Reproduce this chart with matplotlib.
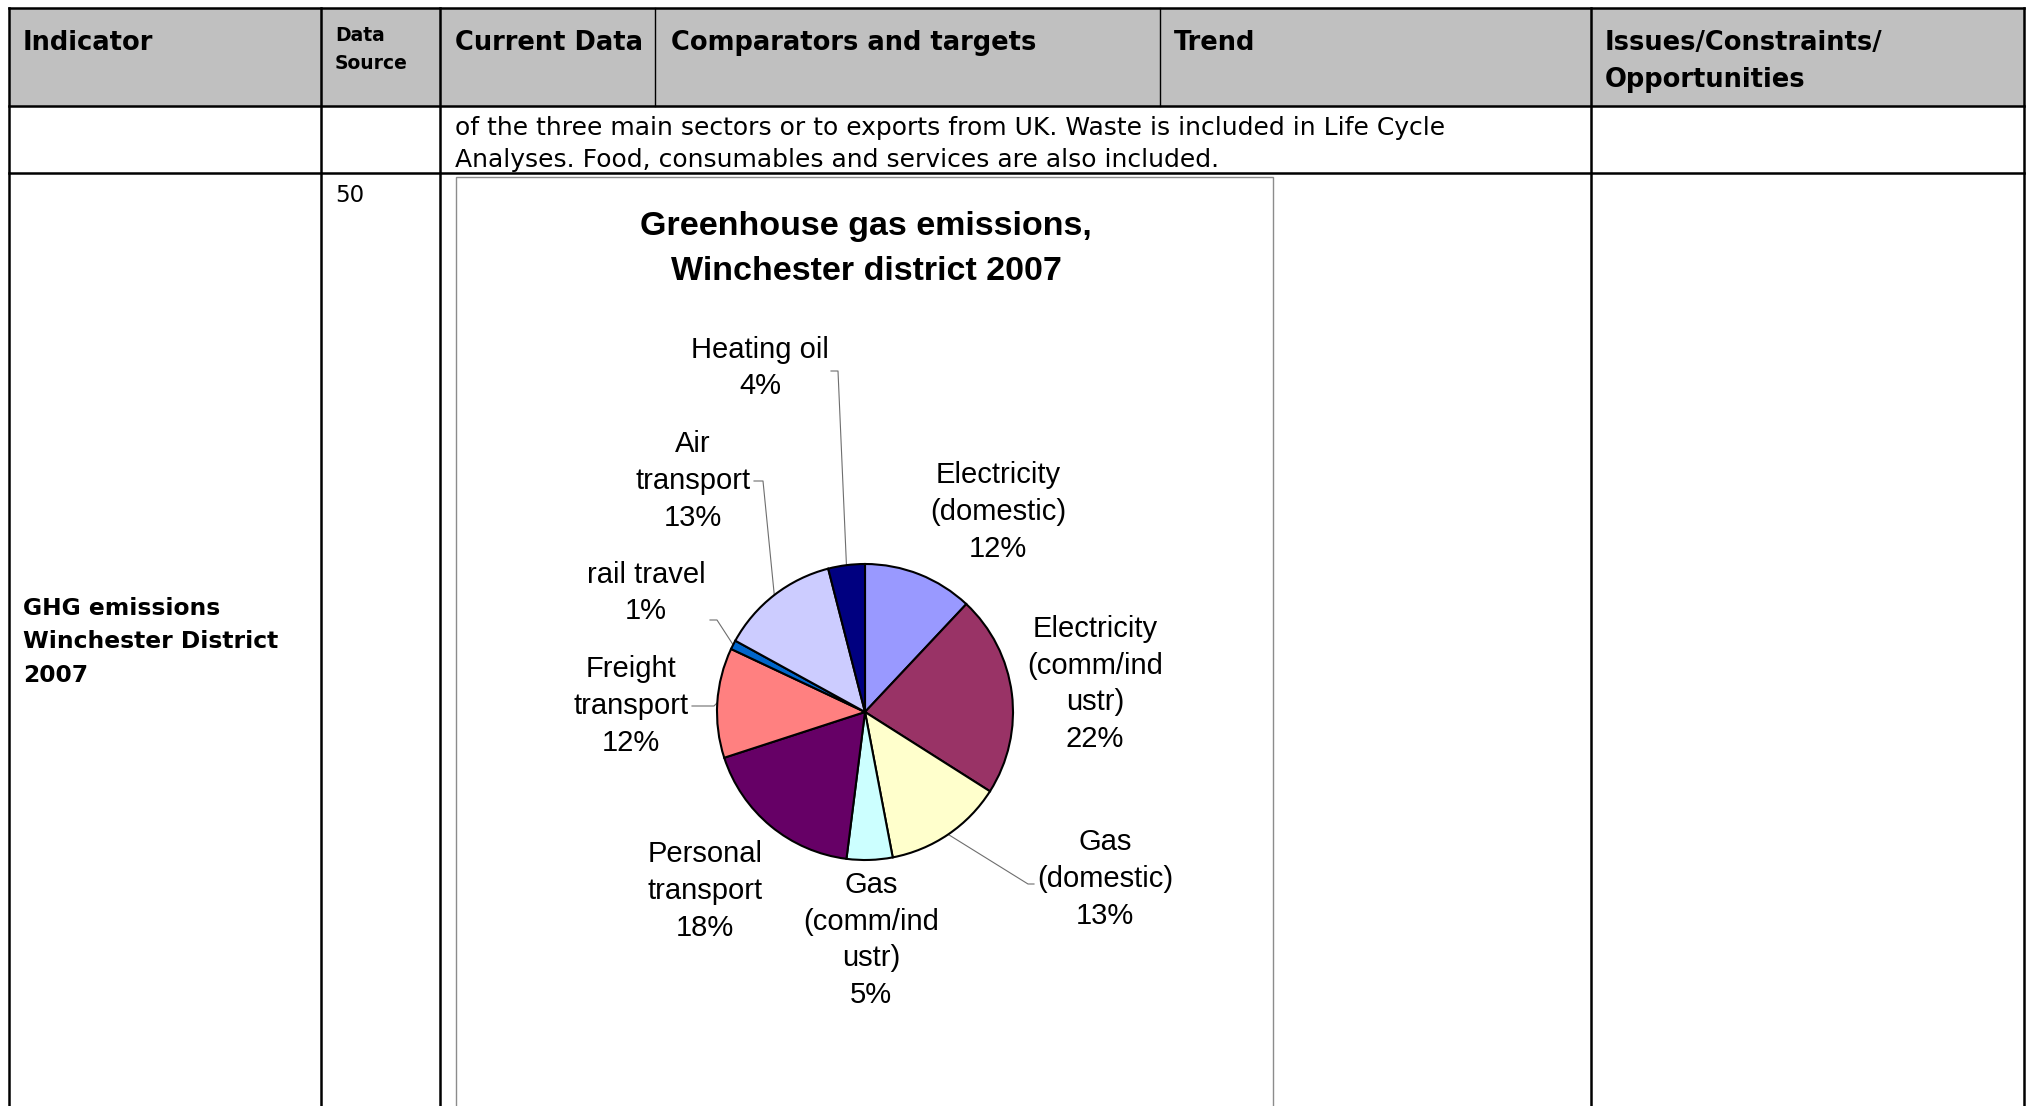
import numpy as np
import matplotlib
matplotlib.use("Agg")
import matplotlib.pyplot as plt

W, H = 2027, 1106

# ----- data -----
sectors = ["Electricity\n(domestic)", "Electricity\n(comm/ind\nustr)", "Gas\n(domestic)",
           "Gas\n(comm/ind\nustr)", "Personal\ntransport", "Freight\ntransport",
           "rail travel", "Air\ntransport", "Heating oil"]
shares = [12, 22, 13, 5, 18, 12, 1, 13, 4]
colors = ["#9999FF", "#993366", "#FFFFCC", "#CCFFFF", "#660066",
          "#FF8080", "#0066CC", "#CCCCFF", "#000080"]

headers = ["Indicator", "Current Data", "Comparators and targets", "Trend",
           "Issues/Constraints/\nOpportunities"]
row2_text = ("of the three main sectors or to exports from UK. Waste is included in Life Cycle\n"
             "Analyses. Food, consumables and services are also included.")
indicator = "GHG emissions\nWinchester District\n2007"
source_no = "50"
chart_title = "Greenhouse gas emissions,\nWinchester district 2007"

# ----- layout (pixel coordinates, y measured from top) -----
col_x = [9, 321, 440, 655, 1160, 1591, 2024]
row_y = [8, 106, 173]
# label centres and leader elbows, per sector
label_xy = [(998, 512), (1095, 684), (1105, 879), (871, 940), (705, 891),
            (631, 706), (646, 593), (693, 481), (760, 368)]
leaders = {2: [(1028, 884), (1034, 884)],
           5: [(714, 706), (692, 706)],
           6: [(717, 620), (710, 620)],
           7: [(763, 481), (754, 481)],
           8: [(838, 371), (831, 371)]}
pie_c, pie_r = (865, 712), 148


def Y(y):
    return H - y


fig = plt.figure(figsize=(W / 100, H / 100), dpi=100)
ax = fig.add_axes([0, 0, 1, 1])
ax.set_xlim(0, W)
ax.set_ylim(0, H)
ax.axis("off")

hfont = dict(family="DejaVu Sans", fontweight="bold")

# header band
ax.add_patch(plt.Rectangle((col_x[0], Y(row_y[1])), col_x[-1] - col_x[0], row_y[1] - row_y[0],
                           facecolor="#c0c0c0", edgecolor="none", zorder=0))
lw = 1.8
for y in row_y:
    ax.plot([col_x[0], col_x[-1]], [Y(y), Y(y)], color="black", lw=lw, zorder=2)
for i, x in enumerate(col_x):
    if i in (3, 4):
        ax.plot([x, x], [Y(row_y[0]), Y(row_y[1])], color="black", lw=1.0, zorder=2)
    else:
        ax.plot([x, x], [Y(row_y[0]), -5], color="black", lw=lw, zorder=2)

# header text
hx = [23, 455, 671, 1174, 1605]
for x, t in zip(hx, headers):
    ax.text(x, Y(30), t, fontsize=18.5, va="top", ha="left", linespacing=1.55, **hfont)
ax.text(335, Y(26), "Data\nSource", fontsize=13.5, va="top", ha="left", linespacing=1.6, **hfont)

ax.text(455, Y(144), row2_text, fontsize=18, va="center", ha="left", linespacing=1.45,
        family="DejaVu Sans")
ax.text(335, Y(184), source_no, fontsize=16.5, va="top", ha="left", family="DejaVu Sans")
ax.text(23, Y(642), indicator, fontsize=16.8, va="center", ha="left", linespacing=1.6, **hfont)

# chart frame
ax.add_patch(plt.Rectangle((456, -5), 1273 - 456, Y(177) + 5, facecolor="white",
                           edgecolor="#8c8c8c", lw=1.0, zorder=1))
ax.text(866, Y(249), chart_title, fontsize=24.5, fontweight="bold", ha="center", va="center",
        linespacing=1.55, family="Liberation Sans", zorder=3)

# pie
wedges, _ = ax.pie(shares, colors=colors, startangle=90, counterclock=False,
                   center=(pie_c[0], Y(pie_c[1])), radius=pie_r, frame=True,
                   wedgeprops=dict(edgecolor="black", linewidth=1.5))
ax.set_xlim(0, W)
ax.set_ylim(0, H)
ax.set_aspect("auto")
ax.axis("off")
for w in wedges:
    w.set_zorder(4)

for i, (w, name, v) in enumerate(zip(wedges, sectors, shares)):
    lx, ly = label_xy[i]
    ax.text(lx, Y(ly), f"{name}\n{v}%", fontsize=21, ha="center", va="center",
            linespacing=1.4, family="Liberation Sans", zorder=5)
    if i in leaders:
        mid = np.deg2rad((w.theta1 + w.theta2) / 2)
        px = pie_c[0] + pie_r * np.cos(mid)
        py = Y(pie_c[1]) + pie_r * np.sin(mid)
        pts = [(px, py)] + [(x, Y(y)) for x, y in leaders[i]]
        xs, ys = zip(*pts)
        ax.plot(xs, ys, color="#6e6e6e", lw=0.8, zorder=3)

fig.savefig("out.png", dpi=100)
